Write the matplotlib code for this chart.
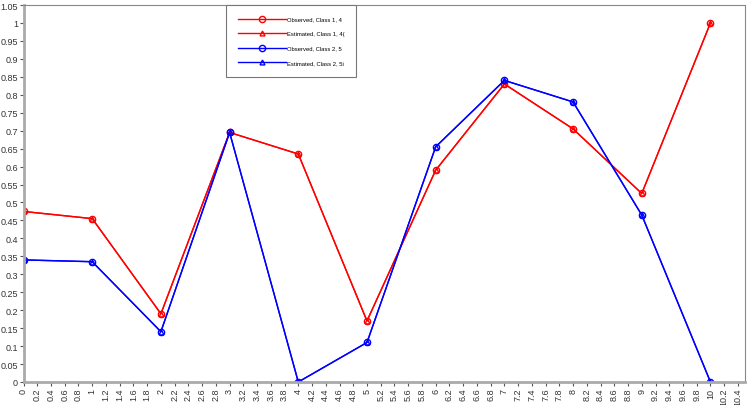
import matplotlib.pyplot as plt
import numpy as np

plt.rcParams['font.family'] = ['Liberation Sans', 'DejaVu Sans']

x = [0, 1, 2, 3, 4, 5, 6, 7, 8, 9, 10]
class1 = [0.475, 0.455, 0.19, 0.695, 0.635, 0.17, 0.59, 0.83, 0.705, 0.525, 1.0]
class2 = [0.34, 0.335, 0.14, 0.695, 0.0, 0.11, 0.655, 0.84, 0.78, 0.465, 0.0]
labels = ['Observed, Class 1, 4', 'Estimated, Class 1, 4(',
          'Observed, Class 2, 5', 'Estimated, Class 2, 5i']


def fmt(v):
    s = '%.2f' % v
    s = s.rstrip('0').rstrip('.')
    return s


fig = plt.figure(figsize=(7.49, 4.06), dpi=100)
ax = fig.add_axes([0.0314, 0.0567, 0.963, 0.9285])

ax.plot(x, class1, color='red', lw=1.0, marker='o', ms=4.5, mfc='none', mew=1.0, label=labels[0])
ax.plot(x, class1, color='red', lw=1.0, marker='^', ms=3.5, mfc='none', mew=1.0, label=labels[1])
ax.plot(x, class2, color='blue', lw=1.0, marker='o', ms=4.5, mfc='none', mew=1.0, label=labels[2])
ax.plot(x, class2, color='blue', lw=1.0, marker='^', ms=3.5, mfc='none', mew=1.0, label=labels[3])

ax.set_xlim(0, 10.5)
ax.set_ylim(0, 1.05)
xt = np.round(np.arange(0, 10.41, 0.2), 1)
ax.set_xticks(xt)
ax.set_xticklabels([fmt(v) for v in xt], rotation=90, fontsize=6.5, color='#333333')
yt = np.round(np.arange(0, 1.051, 0.05), 2)
ax.set_yticks(yt)
ax.set_yticklabels([fmt(v) for v in yt], fontsize=6.5, color='#333333')
ax.tick_params(length=3, width=0.8, color='#555555', pad=1)

for s in ['left', 'bottom']:
    ax.spines[s].set_color('#aaaaaa')
    ax.spines[s].set_linewidth(2)
for s in ['top', 'right']:
    ax.spines[s].set_color('#888888')
    ax.spines[s].set_linewidth(0.8)

# legend sits flush with the top of the axes
leg = ax.legend(loc='upper left', bbox_to_anchor=(0.281, 1.0), fontsize=4.2,
                handlelength=8.3, fancybox=False, framealpha=1,
                edgecolor='#777777', borderpad=2.0, labelspacing=1.6,
                handletextpad=0.1, borderaxespad=0)
leg.get_frame().set_linewidth(0.8)

fig.savefig('out.png', dpi=100)
